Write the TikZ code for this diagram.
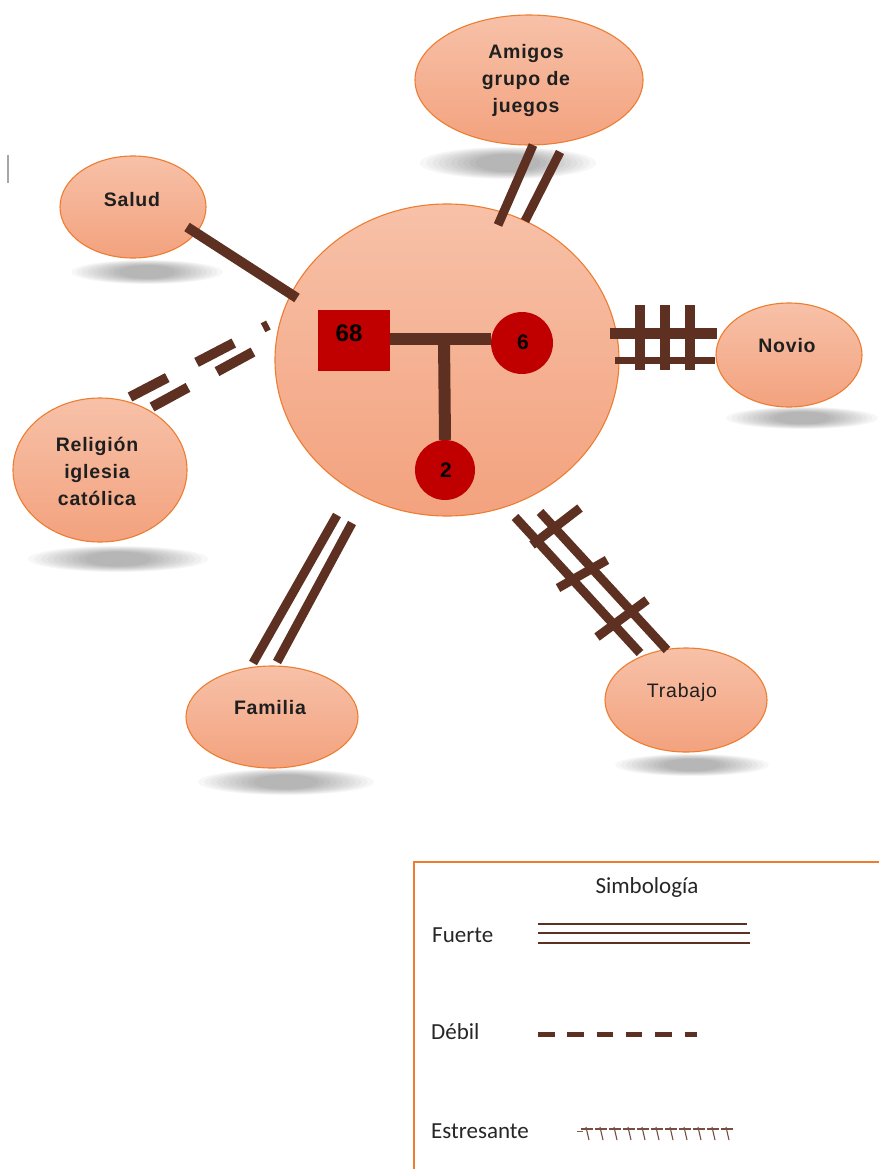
\documentclass[tikz,border=0pt]{standalone}
\usepackage{fontspec}
\setmainfont{Liberation Sans}
\newfontfamily\legfont{Carlito}
\newfontfamily\lblfont[LetterSpace=4]{Liberation Sans}
\usetikzlibrary{shapes.geometric,calc}
\definecolor{brn}{RGB}{94,48,33}
\definecolor{ntop}{RGB}{247,193,168}
\definecolor{nbot}{RGB}{243,162,126}
\definecolor{obrd}{RGB}{237,125,49}
\definecolor{rd}{RGB}{192,0,0}
\newcommand\softshadow[4]{%
  \foreach \s in {1,0.93,0.86,0.79,0.72,0.65,0.58,0.51,0.44,0.37}{\fill[black,opacity=0.032] (#1,#2) ellipse ({#3*\s*1pt} and {#4*(0.3+0.7*\s)*1pt});}}
\tikzset{
  sat/.style={ellipse, draw=obrd, line width=1.1, top color=ntop, bottom color=nbot, inner sep=0pt},
  lbl/.style={font=\lblfont\fontsize{19.5}{27}\selectfont\bfseries, text=black!88, align=center, inner sep=0pt},
  link/.style={draw=brn, line width=9, line cap=butt},
  legtxt/.style={font=\legfont\fontsize{23}{27}\selectfont, text=black!85, anchor=base west, inner sep=0pt},
  legline/.style={draw=brn, line width=2.2},
}
\begin{document}
\begin{tikzpicture}[x=1pt,y=-1pt]
\useasboundingbox (0,0) rectangle (878,1169);
\fill[white] (0,0) rectangle (878,1169);
% cursor artifact
\draw[gray!70, line width=1.5] (8,155) -- (8,183);
% shadows
\softshadow{508}{163}{88}{16}
\softshadow{147}{272}{76}{12}
\softshadow{802}{418}{76}{11}
\softshadow{118}{559}{90}{13}
\softshadow{286}{782}{88}{13}
\softshadow{692}{765}{77}{11}
% nodes
\node[sat, minimum width=344, minimum height=312] (ego) at (447,360) {};
\node[sat, minimum width=228, minimum height=130] (amigos) at (529,80) {};
\node[sat, minimum width=146, minimum height=102] (salud) at (133,207) {};
\node[sat, minimum width=146, minimum height=104] (novio) at (789,355) {};
\node[sat, minimum width=174, minimum height=144] (religion) at (100,470) {};
\node[sat, minimum width=172, minimum height=102] (familia) at (272,717) {};
\node[sat, minimum width=162, minimum height=104] (trabajo) at (686,700) {};
\node[lbl] (amigost) at (526,81) {Amigos\\grupo de\\juegos};
\node[lbl] (saludt) at (132,200) {Salud};
\node[lbl] (noviot) at (787,346) {Novio};
\node[lbl] (religiont) at (97,471) {Religión\\iglesia\\católica};
\node[lbl] (familiat) at (270,708) {Familia};
\node[lbl, font=\lblfont\fontsize{19.5}{23}\selectfont] (trabajot) at (682,692) {Trabajo};
% genogram
\node[fill=rd, minimum width=72, minimum height=61, inner sep=0pt] (man) at (354,340.5) {};
\node[font=\fontsize{24}{26}\selectfont\bfseries, inner sep=0pt] (mant) at (349,333) {68};
\node[circle, fill=rd, minimum size=62, inner sep=0pt] (w6) at (522,343) {};
\node[font=\fontsize{21}{24}\selectfont\bfseries, inner sep=0pt] (w6t) at (523,342) {6};
\node[circle, fill=rd, minimum size=60, inner sep=0pt] (c2) at (445,470) {};
\node[font=\fontsize{21}{24}\selectfont\bfseries, inner sep=0pt] (c2t) at (446,470) {2};
\coordinate (tj) at (444,339);
\draw[draw=brn, line width=12] (man.east |- tj) -- (w6.west |- tj);
\draw[draw=brn, line width=12] (tj) -- (c2.north);
% Salud: single line
\coordinate (s1) at (187,227); \coordinate (s2) at (297,298);
\draw[link, line width=10] (s1) -- (s2);
% Amigos: double line
\coordinate (a1) at (533,145); \coordinate (a2) at (498,225);
\coordinate (a3) at (560,152); \coordinate (a4) at (525,221);
\draw[link] (a1) -- (a2);
\draw[link] (a3) -- (a4);
% Familia: double line
\coordinate (f1) at (337,515); \coordinate (f2) at (253,663);
\coordinate (f3) at (352,523); \coordinate (f4) at (277,662);
\draw[link] (f1) -- (f2);
\draw[link] (f3) -- (f4);
% Religion: weak dashed double line
\coordinate (r1) at (130,397); \coordinate (r2) at (268.4,325);
\coordinate (r3) at (152,407); \coordinate (r4) at (253,352);
\draw[link, line width=10, dash pattern=on 42pt off 33pt] (r1) -- (r2);
\draw[link, line width=10, dash pattern=on 41pt off 33pt] (r3) -- (r4);
% Novio: stressful
\coordinate (n1) at (610,333); \coordinate (n2) at (717,333);
\coordinate (n3) at (615,360); \coordinate (n4) at (715,360);
\draw[link, line width=11] (n1) -- (n2);
\draw[link, line width=7] (n3) -- (n4);
\foreach \xx [count=\i] in {640,665,690}{
  \coordinate (nb\i a) at (\xx,305); \coordinate (nb\i b) at (\xx,370);
  \draw[link, line width=10] (nb\i a) -- (nb\i b);}
% Trabajo: stressful
\coordinate (t1) at (515,517); \coordinate (t2) at (640,653);
\coordinate (t3) at (540,512); \coordinate (t4) at (667,650);
\draw[link] (t1) -- (t2);
\draw[link] (t3) -- (t4);
\coordinate (tb1a) at (532,545); \coordinate (tb1b) at (580,508);
\coordinate (tb2a) at (558,588); \coordinate (tb2b) at (607,560);
\coordinate (tb3a) at (597,637); \coordinate (tb3b) at (647,600);
\draw[link] (tb1a) -- (tb1b);
\draw[link] (tb2a) -- (tb2b);
\draw[link] (tb3a) -- (tb3b);
% legend
\draw[draw=obrd, line width=2] (414,1175) -- (414,862) -- (885,862);
\node[font=\legfont\fontsize{23}{27}\selectfont, text=black!85, anchor=base, inner sep=0pt] (legtitle) at (647,893) {Simbología};
\node[legtxt] (lfuerte) at (432,942) {Fuerte};
\node[legtxt] (ldebil) at (431,1039) {Débil};
\node[legtxt] (lestres) at (431,1138) {Estresante};
\coordinate (lf1) at (538,924); \coordinate (lf2) at (747,924);
\coordinate (lf3) at (538,933); \coordinate (lf4) at (750,933);
\coordinate (lf5) at (538,943); \coordinate (lf6) at (750,943);
\draw[legline] (lf1) -- (lf2);
\draw[legline] (lf3) -- (lf4);
\draw[legline] (lf5) -- (lf6);
\coordinate (ld1) at (538,1034); \coordinate (ld2) at (697,1034);
\draw[draw=brn, line width=5, dash pattern=on 16.5pt off 12.8pt] (ld1) -- (ld2);
\coordinate (le1) at (577,1131); \coordinate (le2) at (740,1131);
\draw[draw=brn!80, line width=1] (le1) -- ++(6,0);
\foreach \i in {0,...,10}{
  \draw[draw=brn!85, line width=1.1] ($(le1)+(9+14*\i,-4)$) -- ++(3,13);
  \draw[draw=brn!85, line width=1.1] ($(le1)+(4+14*\i,-2)$) -- ++(12,0);}
\end{tikzpicture}
\end{document}
